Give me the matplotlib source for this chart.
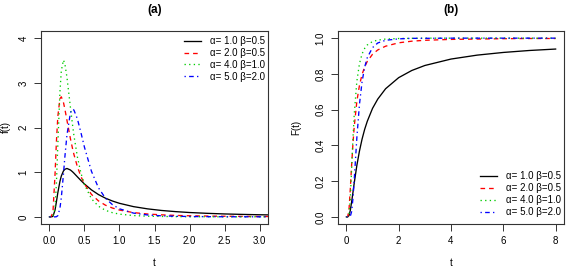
import matplotlib
matplotlib.use("Agg")
import matplotlib.pyplot as plt

plt.rcParams['font.family'] = ['Liberation Sans', 'DejaVu Sans']

# ---------------- data ----------------
labels = ['\u03b1= 1.0 \u03b2=0.5', '\u03b1= 2.0 \u03b2=0.5', '\u03b1= 4.0 \u03b2=1.0', '\u03b1= 5.0 \u03b2=2.0']

# panel (a): density f(t)
t_pdf = [0, 0.02, 0.05, 0.08, 0.1, 0.12, 0.15, 0.17, 0.2, 0.22, 0.25, 0.3, 0.33, 0.35, 0.4, 0.45,
         0.5, 0.6, 0.7, 0.8, 0.9, 1.0, 1.2, 1.4, 1.6, 1.8, 2.0, 2.25, 2.5, 2.75, 3.0, 3.2]
f_black = [0, 0, 0.009, 0.151, 0.337, 0.538, 0.793, 0.914, 1.026, 1.064, 1.083, 1.049, 1.009, 0.978, 0.895, 0.813,
           0.736, 0.604, 0.499, 0.418, 0.354, 0.303, 0.229, 0.179, 0.143, 0.117, 0.097, 0.079, 0.065, 0.055, 0.047, 0.042]
f_red = [0, 0, 0.091, 0.942, 1.685, 2.243, 2.645, 2.687, 2.565, 2.418, 2.165, 1.749, 1.529, 1.397, 1.119, 0.903,
         0.736, 0.503, 0.357, 0.261, 0.197, 0.152, 0.095, 0.064, 0.045, 0.032, 0.024, 0.018, 0.013, 0.010, 0.008, 0.007]
f_green = [0, 0, 0.001, 0.190, 0.757, 1.608, 2.79, 3.27, 3.51, 3.43, 3.13, 2.45, 2.06, 1.82, 1.336, 0.979,
           0.722, 0.405, 0.238, 0.146, 0.093, 0.061, 0.029, 0.015, 0.009, 0.005, 0.003, 0.002, 0.001, 0.001, 0.001, 0.0]
f_blue = [0, 0, 0, 0, 0.003, 0.026, 0.19, 0.43, 0.946, 1.33, 1.83, 2.33, 2.41, 2.39, 2.19, 1.885,
          1.56, 1.02, 0.65, 0.417, 0.272, 0.180, 0.084, 0.042, 0.023, 0.013, 0.008, 0.004, 0.0025, 0.0015, 0.001, 0.001]

# panel (b): distribution F(t)
t_cdf = [0, 0.05, 0.1, 0.15, 0.2, 0.25, 0.3, 0.4, 0.5, 0.6, 0.7, 0.8, 1.0, 1.2, 1.5, 2, 2.5, 3, 4, 5, 6, 7, 8]
F_black = [0, 0, 0.007, 0.036, 0.082, 0.135, 0.189, 0.287, 0.368, 0.435, 0.490, 0.535, 0.607, 0.659, 0.717,
           0.779, 0.819, 0.847, 0.883, 0.905, 0.920, 0.931, 0.939]
F_red = [0, 0.001, 0.040, 0.155, 0.287, 0.406, 0.504, 0.645, 0.736, 0.797, 0.839, 0.870, 0.910, 0.934, 0.955,
         0.974, 0.983, 0.988, 0.993, 0.995, 0.997, 0.998, 0.998]
F_green = [0, 0, 0.010, 0.101, 0.265, 0.434, 0.573, 0.758, 0.857, 0.912, 0.943, 0.962, 0.981, 0.989, 0.995,
           0.998, 0.999, 1.0, 1.0, 1.0, 1.0, 1.0, 1.0]
F_blue = [0, 0, 0, 0.003, 0.029, 0.100, 0.206, 0.441, 0.629, 0.756, 0.838, 0.891, 0.947, 0.973, 0.988,
          0.996, 0.999, 0.999, 1.0, 1.0, 1.0, 1.0, 1.0]

# ---------------- styles (R: lty 1..4, col 1..4) ----------------
colors = ['black', '#FF0000', '#00CD00', '#0000FF']
dashes = [None, (3.5, 3), (1, 2.5), (1, 2.5, 3.5, 2.5)]
lw = 0.95
fs = 7

W, H = 567, 268
fig = plt.figure(figsize=(W / 100, H / 100), dpi=100)


def px_ax(l, r, t, b):
    return fig.add_axes([l / W, 1 - b / H, (r - l) / W, (b - t) / H])


def style(ax):
    for s in ax.spines.values():
        s.set_color('#333333')
        s.set_linewidth(0.8)
    ax.tick_params(direction='out', length=5, width=0.7, color='#333333', labelsize=fs, pad=4)
    for lab in ax.get_yticklabels():
        lab.set_rotation(90)
        lab.set_va('center')


def draw(ax, t, series):
    for y, c, d, lab in zip(series, colors, dashes, labels):
        line, = ax.plot(t, y, color=c, lw=lw, label=lab)
        if d is not None:
            line.set_dashes(d)


# ---------------- (a) ----------------
ax1 = px_ax(41, 268, 31, 224)
draw(ax1, t_pdf, [f_black, f_red, f_green, f_blue])
ax1.set_xlim(-0.12, 3.12)
ax1.set_ylim(-0.16, 4.16)
ax1.set_xticks([0, 0.5, 1.0, 1.5, 2.0, 2.5, 3.0])
ax1.set_xticklabels(['0.0', '0.5', '1.0', '1.5', '2.0', '2.5', '3.0'])
ax1.set_yticks([0, 1, 2, 3, 4])
style(ax1)
ax1.legend(loc='upper right', bbox_to_anchor=(265 / W, 1 - 36 / H), bbox_transform=fig.transFigure,
           frameon=False, fontsize=fs, handlelength=1.8, handletextpad=0.9, labelspacing=0.2,
           borderpad=0, borderaxespad=0)

# ---------------- (b) ----------------
ax2 = px_ax(338, 564, 31, 224)
draw(ax2, t_cdf, [F_black, F_red, F_green, F_blue])
ax2.set_xlim(-0.32, 8.32)
ax2.set_ylim(-0.04, 1.04)
ax2.set_xticks([0, 2, 4, 6, 8])
ax2.set_yticks([0, 0.2, 0.4, 0.6, 0.8, 1.0])
ax2.set_yticklabels(['0.0', '0.2', '0.4', '0.6', '0.8', '1.0'])
style(ax2)
ax2.legend(loc='lower right', bbox_to_anchor=(561 / W, 1 - 217 / H), bbox_transform=fig.transFigure,
           frameon=False, fontsize=fs, handlelength=1.8, handletextpad=0.9, labelspacing=0.2,
           borderpad=0, borderaxespad=0)

# titles and axis labels
fig.text(154.5 / W, 1 - 10 / H, '(a)', ha='center', va='center', fontsize=8.5, fontweight='bold')
fig.text(451 / W, 1 - 10 / H, '(b)', ha='center', va='center', fontsize=8.5, fontweight='bold')
fig.text(154.5 / W, 1 - 263 / H, 't', ha='center', va='center', fontsize=fs)
fig.text(451 / W, 1 - 263 / H, 't', ha='center', va='center', fontsize=fs)
fig.text(5.5 / W, 1 - 127 / H, 'f(t)', ha='center', va='center', fontsize=fs, rotation=90)
fig.text(296 / W, 1 - 127 / H, 'F(t)', ha='center', va='center', fontsize=fs, rotation=90)

fig.savefig('out.png', dpi=100)
